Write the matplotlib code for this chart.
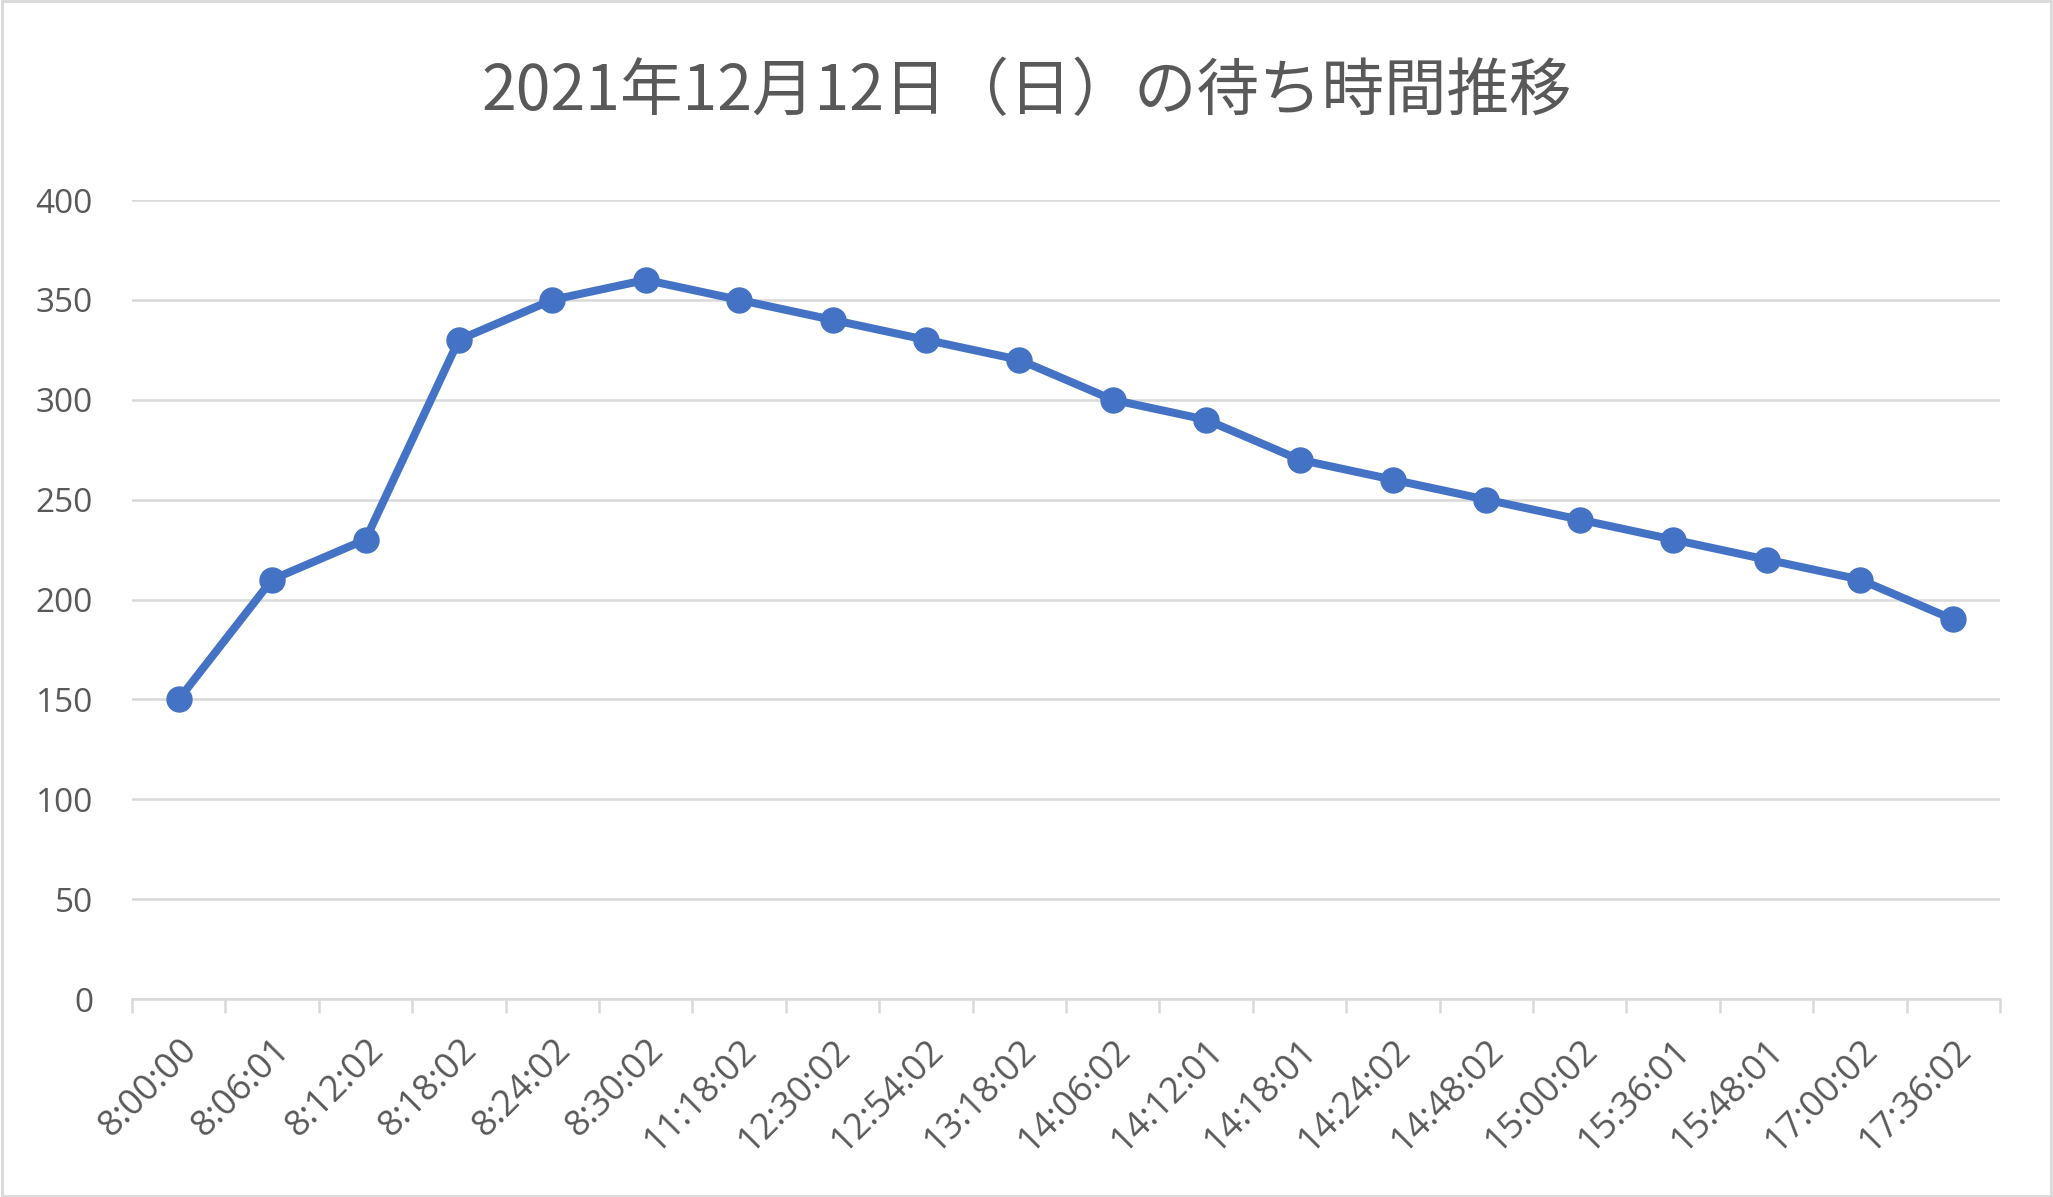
import matplotlib
matplotlib.use("Agg")
import matplotlib.pyplot as plt
from matplotlib.patches import Rectangle

plt.rcParams['font.family'] = ['Noto Sans CJK JP', 'DejaVu Sans']

# データ
jikoku = ['8:00:00', '8:06:01', '8:12:02', '8:18:02', '8:24:02', '8:30:02',
          '11:18:02', '12:30:02', '12:54:02', '13:18:02', '14:06:02', '14:12:01',
          '14:18:01', '14:24:02', '14:48:02', '15:00:02', '15:36:01', '15:48:01',
          '17:00:02', '17:36:02']
machi = [150, 210, 230, 330, 350, 360, 350, 340, 330, 320, 300, 290,
         270, 260, 250, 240, 230, 220, 210, 190]
y_ticks = [0, 50, 100, 150, 200, 250, 300, 350, 400]

text_color = '#595959'
grid_color = '#D9D9D9'
tick_font = ['Open Sans', 'DejaVu Sans']

fig = plt.figure(figsize=(20.53, 11.97), dpi=100)
ax = fig.add_axes([0.0643, 0.1654, 0.9099, 0.6675])

x = list(range(len(jikoku)))
ax.plot(x, machi, color='#4472C4', linewidth=5.8, marker='o', markersize=18,
        solid_capstyle='round', zorder=3)

ax.set_xlim(-0.5, len(jikoku) - 0.5)
ax.set_ylim(0, 400)
ax.set_yticks(y_ticks)
ax.set_yticklabels([str(v) for v in y_ticks], fontsize=24, color=text_color,
                   family=tick_font)
ax.tick_params(axis='y', length=0, pad=28)
ax.grid(axis='y', color=grid_color, linewidth=1.8, zorder=0)

# 区切りの目盛り (カテゴリの間)
ax.set_xticks([i - 0.5 for i in range(len(jikoku) + 1)], minor=False)
ax.set_xticklabels([''] * (len(jikoku) + 1))
ax.tick_params(axis='x', which='major', length=10, width=1.8, color=grid_color)
ax.set_xticks(x, minor=True)
ax.set_xticklabels(jikoku, minor=True, fontsize=26, color=text_color, family=tick_font,
                   rotation=45, ha='right', va='top', rotation_mode='anchor')
ax.tick_params(axis='x', which='minor', length=0, pad=24)

for s in ['top', 'right', 'left']:
    ax.spines[s].set_visible(False)
ax.spines['bottom'].set_color(grid_color)
ax.spines['bottom'].set_linewidth(1.8)

fig.text(0.5, 0.923, '2021年12月12日（日）の待ち時間推移', ha='center', va='center',
         fontsize=45, color=text_color)

fig.patches.append(Rectangle((0.001, 0.001), 0.998, 0.998, transform=fig.transFigure,
                             fill=False, edgecolor=grid_color, linewidth=2))

fig.savefig('out.png', dpi=100, facecolor='white')
